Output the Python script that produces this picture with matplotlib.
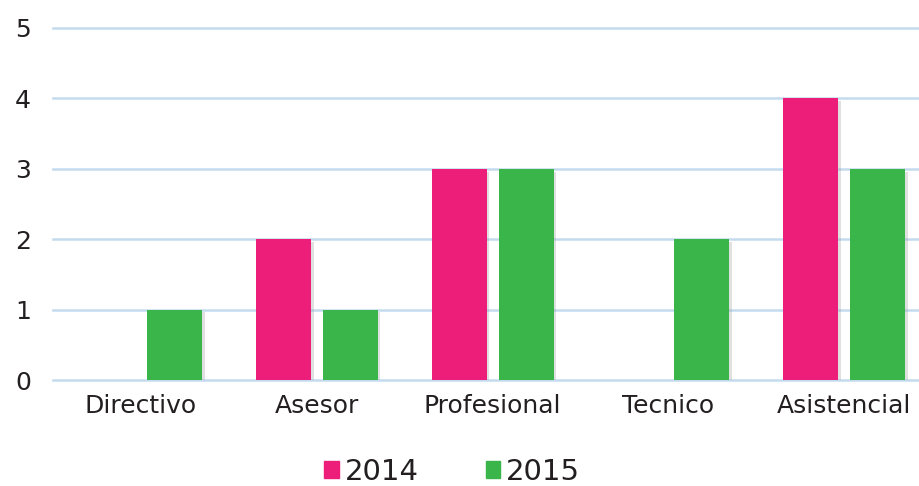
import matplotlib.pyplot as plt
import matplotlib.patheffects as pe
from matplotlib.patches import Patch
import numpy as np

categories = ["Directivo", "Asesor", "Profesional", "Tecnico", "Asistencial"]
values_2014 = [0, 2, 3, 0, 4]
values_2015 = [1, 1, 3, 2, 3]
y_ticks = [0, 1, 2, 3, 4, 5]

pink = "#ed1e79"
green = "#39b54a"
grid_color = "#c4daee"
text_color = "#231f20"

fig = plt.figure(figsize=(9.2, 4.86), dpi=100)
ax = fig.add_axes([53 / 920, 1 - 380 / 486, 1 - 53 / 920, (380 - 28) / 486])

x = np.arange(len(categories))
width = 0.3125
offset = 0.19
shadow = [pe.SimplePatchShadow(offset=(2, -2), shadow_rgbFace="#999999", alpha=0.3), pe.Normal()]

b1 = ax.bar(x - offset, values_2014, width, color=pink, zorder=3)
b2 = ax.bar(x + offset, values_2015, width, color=green, zorder=3)
for bar in list(b1) + list(b2):
    if bar.get_height() > 0:
        bar.set_path_effects(shadow)

ax.set_xlim(-0.5, 4.43)
ax.set_ylim(0, 5)
ax.set_yticks(y_ticks)
ax.set_xticks(x)
ax.set_xticklabels(categories)
ax.yaxis.grid(True, color=grid_color, linewidth=1.8, zorder=0)
for gl in ax.get_ygridlines():
    gl.set_clip_on(False)
ax.set_axisbelow(True)
for s in ax.spines.values():
    s.set_visible(False)
ax.tick_params(axis="both", length=0, colors=text_color)
ax.tick_params(axis="y", pad=16, labelsize=18)
ax.tick_params(axis="x", pad=10, labelsize=18)

handles = [Patch(color=pink, label="2014"), Patch(color=green, label="2015")]
fig.legend(handles=handles, loc="center", bbox_to_anchor=(452 / 920, 1 - 472 / 486), ncol=2,
           frameon=False, fontsize=21, handlelength=0.5, handleheight=0.5,
           handletextpad=0.2, columnspacing=2.3, labelcolor=text_color)

fig.savefig("out.png", dpi=100)
